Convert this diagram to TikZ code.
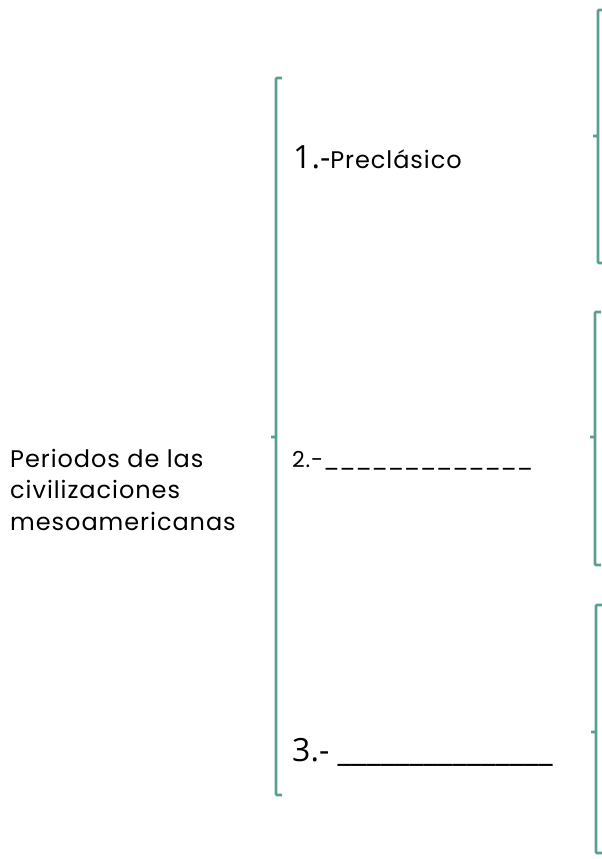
\documentclass[tikz,border=0pt]{standalone}
\usepackage{fontspec}
\setmainfont{Poppins}[LetterSpace=4]
\newfontfamily\numfont{Open Sans}
\usetikzlibrary{positioning}
\definecolor{llave}{RGB}{91,158,146}

\begin{document}
\begin{tikzpicture}[
      x=1pt, y=-1pt,
      llave/.style={draw=llave, line width=2.8pt, rounded corners=1pt}, % Klammern
      texto/.style={anchor=base west, inner sep=0pt, text=black},
    ]
    \useasboundingbox (0,0) rectangle (602,859);

    % Klammern: x / oben / mitte / unten
    \foreach \x/\top/\mid/\bot in {276/78/437/795, 598/10/136/263, 595/312/437/565, 596/605/732/853}
    \draw[llave] (\x+6,\top) -- (\x,\top) -- (\x,\bot) -- (\x+6,\bot)
      (\x,\mid) -- (\x-5,\mid);

    % Texte
    \node[texto, align=left, font={\fontsize{24}{31.5}\selectfont}] (titulo) at (10,530)
      {Periodos de las\\civilizaciones\\mesoamericanas};
    \node[texto, font={\fontsize{24}{28}\selectfont}] (p1) at (293,168)
      {{\numfont\fontsize{32}{36}\selectfont 1.-}Preclásico};
    \node[texto, font={\fontsize{22}{26}\selectfont}] (p2) at (292,467)
      {2.-{\addfontfeature{LetterSpace=0}\_\_\_\_\_\_\_\_\_\_\_\_\_}};
    \node[texto, font={\numfont\fontsize{32}{36}\selectfont}] (p3) at (292,761)
      {3.- \_\_\_\_\_\_\_\_\_\_\_\_\_\_\_};
  \end{tikzpicture}
\end{document}
